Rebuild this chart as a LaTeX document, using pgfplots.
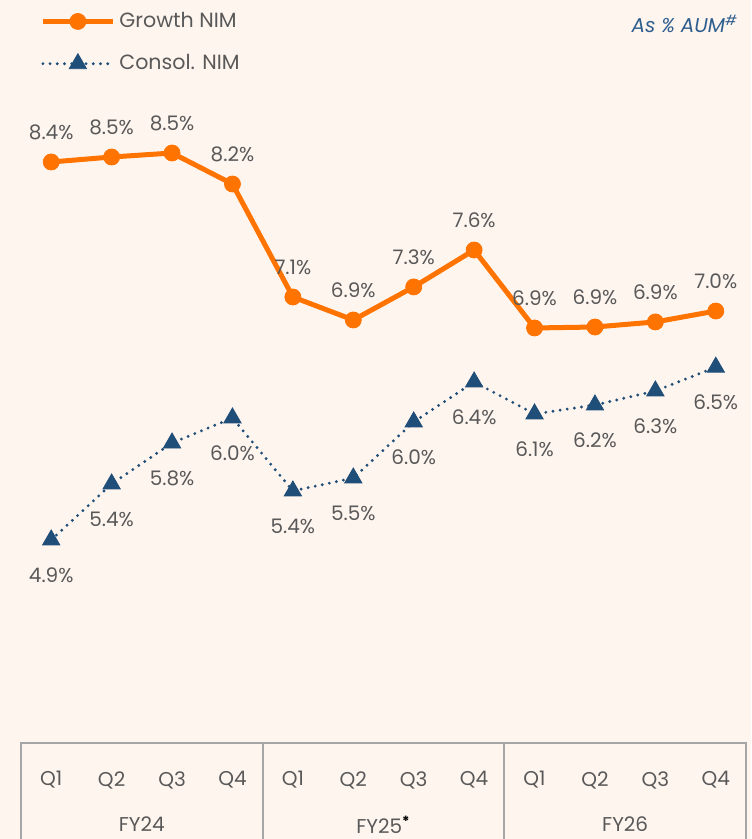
\documentclass[border=0pt]{standalone}
\usepackage{fontspec}
\setmainfont{Poppins}
\usepackage{pgfplots}
\pgfplotsset{compat=1.18}
\definecolor{bg}{HTML}{FFF5EF}
\definecolor{gorange}{HTML}{FF7300}
\definecolor{navy}{HTML}{1F4E79}
\definecolor{txt}{HTML}{595959}
\definecolor{note}{HTML}{2E5E8E}
\definecolor{gridc}{HTML}{A6A6A6}
\begin{document}
\begin{tikzpicture}
\path[use as bounding box, fill=bg] (-10.5pt,0) rectangle (365pt,419.5pt);
\begin{axis}[
  at={(0,0)}, anchor=south west, scale only axis,
  width=362.5pt, height=419.5pt,
  xmin=-0.5, xmax=11.5, ymin=2.1315, ymax=9.9,
  hide axis, clip=false,
  font=\fontsize{10}{12}\selectfont,
  legend style={draw=none, fill=none, at={(rel axis cs:0.0262,0.9905)}, anchor=north west,
    inner sep=0pt, row sep=8pt, font=\fontsize{10.3}{12}\selectfont, text=txt},
  legend cell align=left,
  legend image code/.code={\draw[mark repeat=2,mark phase=2,#1] plot coordinates {(0pt,0pt) (17.5pt,0pt) (35pt,0pt)};},
]
\addplot[gorange, line width=2.5pt, line join=round, mark=*, mark size=4pt,
  mark options={solid, fill=gorange, draw=gorange, line width=0.4pt},
  nodes near coords={\pgfplotspointmeta\%}, point meta=explicit symbolic,
  nodes near coords style={text=txt, anchor=center, yshift=15pt}]
table[meta=label] {
x y label
0 8.400 8.4
1 8.446 8.5
2 8.483 8.5
3 8.196 8.2
4 7.150 7.1
5 6.937 6.9
6 7.243 7.3
7 7.585 7.6
8 6.863 6.9
9 6.872 6.9
10 6.919 6.9
11 7.020 7.0
};
\addlegendentry{Growth NIM}
\addplot[navy, line width=1.6pt, dash pattern=on 0pt off 3.6pt, line cap=round,
  mark=triangle*, mark size=5pt,
  mark options={solid, fill=navy, draw=navy, line width=0.4pt},
  nodes near coords={\pgfplotspointmeta\%}, point meta=explicit symbolic,
  nodes near coords style={text=txt, anchor=center, yshift=-17.75pt}]
table[meta=label] {
x y label
0 4.900 4.9
1 5.419 5.4
2 5.798 5.8
3 6.030 6.0
4 5.354 5.4
5 5.474 5.5
6 5.993 6.0
7 6.363 6.4
8 6.067 6.1
9 6.150 6.2
10 6.280 6.3
11 6.500 6.5
};
\addlegendentry{Consol. NIM}
% category table
\draw[gridc, line width=1pt] (axis cs:-0.5,2.1315) -- (axis cs:-0.5,3.0204) -- (axis cs:11.5,3.0204) -- (axis cs:11.5,2.1315);
\draw[gridc, line width=1pt] (axis cs:3.5,3.0204) -- (axis cs:3.5,2.1315);
\draw[gridc, line width=1pt] (axis cs:7.5,3.0204) -- (axis cs:7.5,2.1315);
\node[text=txt] at (axis cs:0,2.6778) {Q1};
\node[text=txt] at (axis cs:1,2.6778) {Q2};
\node[text=txt] at (axis cs:2,2.6778) {Q3};
\node[text=txt] at (axis cs:3,2.6778) {Q4};
\node[text=txt] at (axis cs:4,2.6778) {Q1};
\node[text=txt] at (axis cs:5,2.6778) {Q2};
\node[text=txt] at (axis cs:6,2.6778) {Q3};
\node[text=txt] at (axis cs:7,2.6778) {Q4};
\node[text=txt] at (axis cs:8,2.6778) {Q1};
\node[text=txt] at (axis cs:9,2.6778) {Q2};
\node[text=txt] at (axis cs:10,2.6778) {Q3};
\node[text=txt] at (axis cs:11,2.6778) {Q4};
\node[text=txt, inner sep=0pt] at (axis cs:1.5,2.265) {FY24};
\node[text=txt, inner sep=0pt] at (axis cs:5.5,2.265) {FY25\textsuperscript{\textcolor{black}{\textbf{*}}}};
\node[text=txt, inner sep=0pt] at (axis cs:9.5,2.265) {FY26};
\node[text=note, anchor=east, font=\itshape\fontsize{10}{12}\selectfont] at (axis cs:11.483,9.678) {As \% AUM\textsuperscript{\#}};
\end{axis}
\end{tikzpicture}
\end{document}
